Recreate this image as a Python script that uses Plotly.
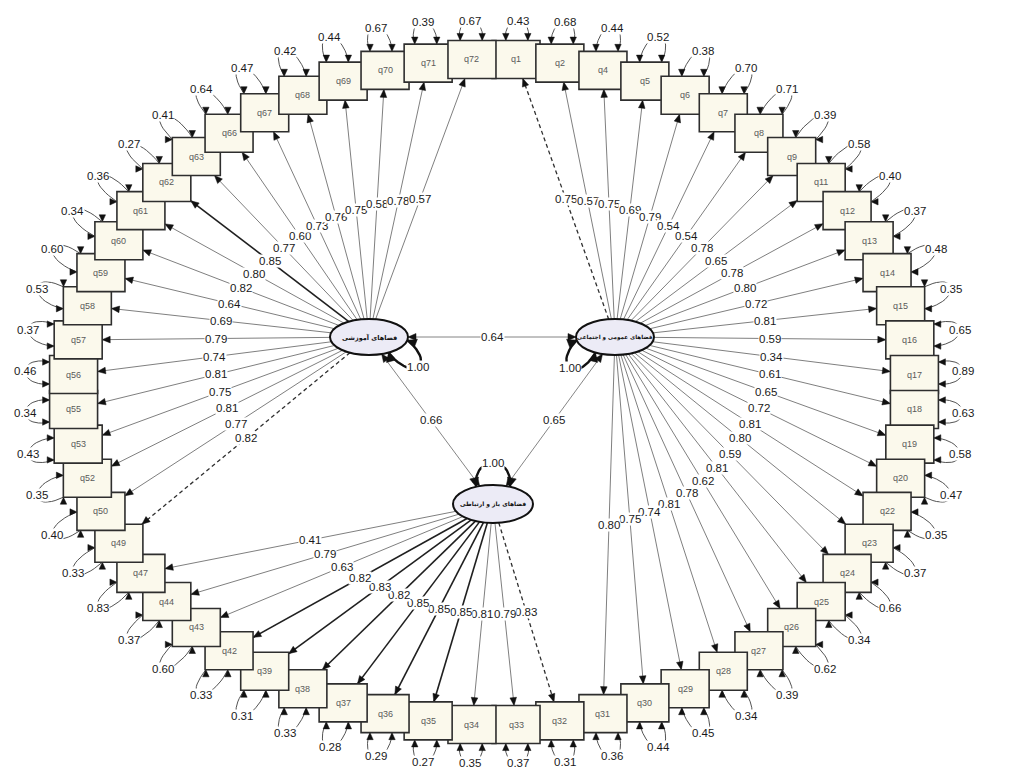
import numpy as np
import plotly.graph_objects as go

# ---------------- data ----------------
items = ["q1", "q2", "q4", "q5", "q6", "q7", "q8", "q9", "q11", "q12", "q13", "q14", "q15", "q16",
         "q17", "q18", "q19", "q20", "q22", "q23", "q24", "q25", "q26", "q27", "q28", "q29", "q30",
         "q31", "q32", "q33", "q34", "q35", "q36", "q37", "q38", "q39", "q42", "q43", "q44", "q47",
         "q49", "q50", "q52", "q53", "q55", "q56", "q57", "q58", "q59", "q60", "q61", "q62", "q63",
         "q66", "q67", "q68", "q69", "q70", "q71", "q72"]

loadings = [0.75, 0.57, 0.75, 0.69, 0.79, 0.54, 0.54, 0.78, 0.65, 0.78, 0.80, 0.72, 0.81, 0.59,
            0.34, 0.61, 0.65, 0.72, 0.81, 0.80, 0.59, 0.81, 0.62, 0.78, 0.81, 0.74, 0.75,
            0.80, 0.83, 0.79, 0.81, 0.85, 0.85, 0.85, 0.82, 0.83, 0.82, 0.63, 0.79, 0.41,
            0.82, 0.77, 0.81, 0.75, 0.81, 0.74, 0.79, 0.69, 0.64, 0.82, 0.80, 0.85, 0.77,
            0.60, 0.73, 0.76, 0.75, 0.58, 0.78, 0.57]

errors = [0.43, 0.68, 0.44, 0.52, 0.38, 0.70, 0.71, 0.39, 0.58, 0.40, 0.37, 0.48, 0.35, 0.65,
          0.89, 0.63, 0.58, 0.47, 0.35, 0.37, 0.66, 0.34, 0.62, 0.39, 0.34, 0.45, 0.44,
          0.36, 0.31, 0.37, 0.35, 0.27, 0.29, 0.28, 0.33, 0.31, 0.33, 0.60, 0.37, 0.83,
          0.33, 0.40, 0.35, 0.43, 0.34, 0.46, 0.37, 0.53, 0.60, 0.34, 0.36, 0.27, 0.41,
          0.64, 0.47, 0.42, 0.44, 0.67, 0.39, 0.67]

pub_items = items[0:28]      # q1 .. q31
open_items = items[28:40]    # q32 .. q47
edu_items = items[40:60]     # q49 .. q72

latent_names = {"edu": "فضاهای آموزشی",
                "pub": "فضاهای عمومی و اجتماعی",
                "open": "فضاهای باز و ارتباطی"}
factor_cov = [("edu", "pub", 0.64), ("edu", "open", 0.66), ("pub", "open", 0.65)]
factor_var = {"edu": 1.00, "pub": 1.00, "open": 1.00}
ref_items = ["q1", "q32", "q49"]          # fixed (dashed) loadings

# ---------------- layout / style ----------------
CX, CY, A, B = 494.0, 392.0, 421.0, 333.0
BW, BH = 48.0, 38.0
LAT = {"edu": (369.0, 337.0, 39.0, 18.0),
       "pub": (615.0, 337.0, 39.0, 18.0),
       "open": (493.0, 504.0, 40.0, 19.0)}
LOOPS = {"edu": (60, 10), "pub": (120, 170), "open": (245, 295)}
LOOP_LABEL = {"edu": (418, 367), "pub": (570, 368), "open": (493, 463)}
LAT_FONT = {"edu": 6.5, "pub": 5.6, "open": 6.0}
bold_items = {"q62", "q42", "q39", "q38", "q37", "q36", "q35"}
FONT = "Liberation Sans, Arial, sans-serif"

factor_of = {}
for it in pub_items:
    factor_of[it] = "pub"
for it in open_items:
    factor_of[it] = "open"
for it in edu_items:
    factor_of[it] = "edu"

N = len(items)
fig = go.Figure()
shapes, annots = [], []

seg = {"norm": ([], []), "bold": ([], []), "dash": ([], []), "err": ([], []),
       "cov": ([], []), "loop": ([], [])}
tri_x, tri_y = [], []


def add_seg(key, pts):
    xs, ys = seg[key]
    for p in pts:
        xs.append(p[0]); ys.append(p[1])
    xs.append(None); ys.append(None)


def add_tri(tip, d, L=8.0, W=3.3):
    d = np.asarray(d, float); d = d / np.linalg.norm(d)
    perp = np.array([-d[1], d[0]])
    base = np.asarray(tip) - d * L
    for p in (tip, base + perp * W, base - perp * W, tip):
        tri_x.append(p[0]); tri_y.append(p[1])
    tri_x.append(None); tri_y.append(None)


def cubic(P0, P1, P2, P3, n=24):
    t = np.linspace(0, 1, n)[:, None]
    return ((1 - t) ** 3) * P0 + 3 * ((1 - t) ** 2) * t * P1 + 3 * (1 - t) * t * t * P2 + t ** 3 * P3


def arc_pts(P0, P3, L, spread=5.0):
    P0 = np.asarray(P0, float); P3 = np.asarray(P3, float); L = np.asarray(L, float)
    mid = (P0 + P3) / 2
    d = L - mid
    u = P3 - P0
    u = u / (np.linalg.norm(u) + 1e-9)
    return cubic(P0, P0 + d * 4 / 3 - u * spread, P3 + d * 4 / 3 + u * spread, P3)


def ell_boundary(lat, toward):
    cx, cy, rx, ry = LAT[lat]
    d = np.array([toward[0] - cx, toward[1] - cy])
    s = 1.0 / np.sqrt((d[0] / rx) ** 2 + (d[1] / ry) ** 2)
    return np.array([cx, cy]) + d * s


def box_boundary(c, toward):
    d = np.asarray(toward) - np.asarray(c)
    t = min(BW / 2 / (abs(d[0]) + 1e-9), BH / 2 / (abs(d[1]) + 1e-9))
    return np.asarray(c) + d * t


def perim_point(c, s):
    P = 2 * (BW + BH)
    s = s % P
    x0, y0 = c[0] - BW / 2, c[1] - BH / 2
    x1, y1 = c[0] + BW / 2, c[1] + BH / 2
    if s < BW:
        return np.array([x0 + s, y0]), np.array([0.0, 1.0])
    s -= BW
    if s < BH:
        return np.array([x1, y0 + s]), np.array([-1.0, 0.0])
    s -= BH
    if s < BW:
        return np.array([x1 - s, y1]), np.array([0.0, -1.0])
    s -= BW
    return np.array([x0, y1 - s]), np.array([1.0, 0.0])


def perim_coord(c, p):
    x0, y0 = c[0] - BW / 2, c[1] - BH / 2
    x1, y1 = c[0] + BW / 2, c[1] + BH / 2
    e = 1e-6
    if abs(p[1] - y0) < e:
        return p[0] - x0
    if abs(p[0] - x1) < e:
        return BW + (p[1] - y0)
    if abs(p[1] - y1) < e:
        return BW + BH + (x1 - p[0])
    return 2 * BW + BH + (y1 - p[1])


for k, (it, lo, er) in enumerate(zip(items, loadings, errors)):
    th = np.radians((k + 0.5) * 360.0 / N)
    c = np.array([CX + A * np.sin(th), CY - B * np.cos(th)])
    # box
    shapes.append(dict(type="rect", x0=c[0] - BW / 2, x1=c[0] + BW / 2, y0=c[1] - BH / 2,
                       y1=c[1] + BH / 2, line=dict(color="#2e2e2e", width=1.6),
                       fillcolor="#FBF9EC", layer="above"))
    annots.append(dict(x=c[0], y=c[1], text=it, showarrow=False,
                       font=dict(family=FONT, size=9, color="#5a5a5a")))
    # loading arrow
    lat = factor_of[it]
    start = ell_boundary(lat, c)
    end = box_boundary(c, start)
    key = "dash" if it in ref_items else ("bold" if it in bold_items else "norm")
    add_seg(key, [start, end])
    add_tri(end, end - start)
    mid = (start + end) / 2
    annots.append(dict(x=mid[0], y=mid[1], text=f"{lo:.2f}", showarrow=False,
                       bgcolor="white", borderpad=0,
                       font=dict(family=FONT, size=11.5, color="#1a1a1a")))
    # error variance loop
    n = np.array([np.sin(th) / A, -np.cos(th) / B])
    n = n / np.linalg.norm(n)
    sb = BW / 2 * abs(n[0]) + BH / 2 * abs(n[1])
    st = 11 * abs(n[0]) + 6 * abs(n[1])
    Lp = c + n * (sb + st + 12)
    hit = box_boundary(c, c + n * 100)
    s0 = perim_coord(c, hit)
    pA, dA = perim_point(c, s0 - 11)
    pB, dB = perim_point(c, s0 + 11)
    add_seg("err", arc_pts(pA, pB, Lp))
    add_tri(pA, dA, L=7, W=3.2)
    add_tri(pB, dB, L=7, W=3.2)
    annots.append(dict(x=Lp[0], y=Lp[1], text=f"{er:.2f}", showarrow=False,
                       bgcolor="white", borderpad=0,
                       font=dict(family=FONT, size=11.5, color="#1a1a1a")))

# latent covariances
for a, b, v in factor_cov:
    pa = ell_boundary(a, LAT[b][:2])
    pb = ell_boundary(b, LAT[a][:2])
    add_seg("cov", [pa, pb])
    add_tri(pa, pa - pb, L=8, W=3.5)
    add_tri(pb, pb - pa, L=8, W=3.5)
    m = (pa + pb) / 2
    annots.append(dict(x=m[0], y=m[1], text=f"{v:.2f}", showarrow=False,
                       bgcolor="white", borderpad=0,
                       font=dict(family=FONT, size=11.5, color="#1a1a1a")))

# latent variances and ellipses
for lat, (cx, cy, rx, ry) in LAT.items():
    pts = []
    for ang in LOOPS[lat]:
        al = np.radians(ang)
        p = np.array([cx + rx * np.cos(al), cy + ry * np.sin(al)])
        nrm = np.array([(p[0] - cx) / rx ** 2, (p[1] - cy) / ry ** 2])
        pts.append((p, -nrm))
    Lp = np.array(LOOP_LABEL[lat], float)
    add_seg("loop", arc_pts(pts[0][0], pts[1][0], Lp, spread=4))
    for p, dn in pts:
        add_tri(p, dn, L=9, W=4.5)
    annots.append(dict(x=Lp[0], y=Lp[1], text=f"{factor_var[lat]:.2f}", showarrow=False,
                       bgcolor="white", borderpad=0,
                       font=dict(family=FONT, size=11.5, color="#1a1a1a")))
    shapes.append(dict(type="circle", x0=cx - rx, x1=cx + rx, y0=cy - ry, y1=cy + ry,
                       line=dict(color="#111111", width=2), fillcolor="#ECEBF6", layer="above"))
    annots.append(dict(x=cx, y=cy, text=f"<b>{latent_names[lat]}</b>", showarrow=False,
                       font=dict(family="DejaVu Sans, Noto Sans, sans-serif",
                                 size=LAT_FONT[lat], color="#111111")))

styles = {"norm": dict(color="#707070", width=0.9),
          "bold": dict(color="#202020", width=1.6),
          "dash": dict(color="#303030", width=1.3, dash="4px,3px"),
          "err": dict(color="#404040", width=0.9),
          "cov": dict(color="#777777", width=0.9),
          "loop": dict(color="#111111", width=2.4)}
for key, (xs, ys) in seg.items():
    fig.add_trace(go.Scatter(x=xs, y=ys, mode="lines", line=styles[key],
                             hoverinfo="skip", showlegend=False))
fig.add_trace(go.Scatter(x=tri_x, y=tri_y, mode="lines", fill="toself",
                         fillcolor="#111111", line=dict(color="#111111", width=0.5),
                         hoverinfo="skip", showlegend=False))

fig.update_layout(width=1029, height=772, margin=dict(l=0, r=0, t=0, b=0),
                  paper_bgcolor="white", plot_bgcolor="white",
                  xaxis=dict(range=[0, 1029], visible=False, fixedrange=True),
                  yaxis=dict(range=[772, 0], visible=False, fixedrange=True),
                  shapes=shapes, annotations=annots, showlegend=False)
fig.write_html("out.html", config={"displayModeBar": False})
